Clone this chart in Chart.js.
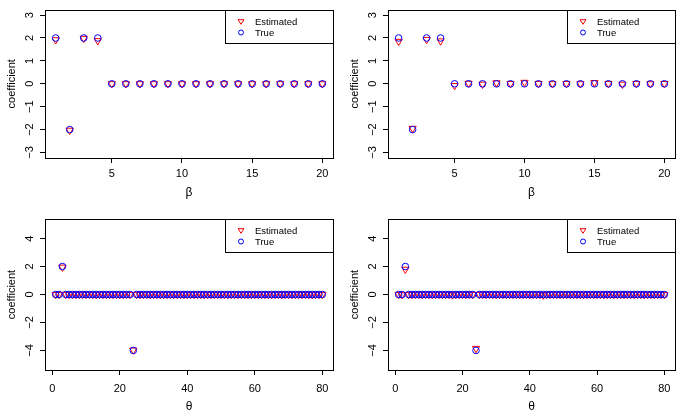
<!DOCTYPE html>
<html>
<head>
<meta charset="utf-8">
<script src="https://cdn.jsdelivr.net/npm/chart.js@4"></script>
<style>
body { margin: 0; background: #fff; width: 683px; height: 416px; position: relative; overflow: hidden; }
canvas { position: absolute; }
</style>
</head>
<body>
<canvas id="p1" width="341" height="205" style="left:0;top:0"></canvas>
<canvas id="p2" width="342" height="205" style="left:341px;top:0"></canvas>
<canvas id="p3" width="341" height="211" style="left:0;top:205px"></canvas>
<canvas id="p4" width="342" height="211" style="left:341px;top:205px"></canvas>
<script>
// beta coefficients (1..20)
const betaTrue = [2, -2, 2, 2, 0, 0, 0, 0, 0, 0, 0, 0, 0, 0, 0, 0, 0, 0, 0, 0];
const betaEstLeft = [1.92, -2.03, 1.98, 1.88, 0, 0, 0, 0, 0, 0, 0, 0, 0, 0, 0, 0, 0, 0, 0, 0];
const betaEstRight = [1.85, -1.95, 1.93, 1.87, -0.08, 0.02, -0.02, 0.04, 0.01, 0.06, 0.01, 0, 0.01, 0, 0.05, 0.01, -0.02, 0.01, 0, 0.01];

// theta coefficients (1..80)
const thetaTrue = [
    0, 0, 2, 0, 0, 0, 0, 0, 0, 0, 0, 0, 0, 0, 0, 0, 0, 0, 0, 0,
    0, 0, 0, -4, 0, 0, 0, 0, 0, 0, 0, 0, 0, 0, 0, 0, 0, 0, 0, 0,
    0, 0, 0, 0, 0, 0, 0, 0, 0, 0, 0, 0, 0, 0, 0, 0, 0, 0, 0, 0,
    0, 0, 0, 0, 0, 0, 0, 0, 0, 0, 0, 0, 0, 0, 0, 0, 0, 0, 0, 0
];
const thetaEstLeft = [
    0, 0, 1.95, 0, 0, 0, 0, 0, 0, 0, 0, 0, 0, 0, 0, 0, 0, 0, 0, 0,
    0, 0, 0, -3.98, 0, 0, 0, 0, 0, 0, 0, 0, 0, 0, 0, 0, 0, 0, 0, 0,
    0, 0, 0, 0, 0, 0, 0, 0, 0, 0, 0, 0, 0, 0, 0, 0, 0, 0, 0, 0,
    0, 0, 0, 0, 0, 0, 0, 0, 0, 0, 0, 0, 0, 0, 0, 0, 0, 0, 0, 0
];
const thetaEstRight = [
    0, -0.02, 1.8, 0, 0, 0, 0, 0, 0, 0, 0, 0, 0, 0, 0, 0, -0.04, 0, 0, 0,
    0, 0, 0, -3.86, 0, 0, 0, 0, 0, 0, 0, 0, 0, 0, 0, 0, 0, 0, 0, 0,
    0, 0, 0, -0.05, 0, 0, 0, 0, 0, 0, 0, 0, 0, 0, 0, 0, 0, 0, 0, 0,
    0, 0, 0, 0, 0, 0, 0, 0, 0, 0, 0, 0, 0, 0, 0, 0, 0, 0, 0, 0
];

const betaXTicks = [5, 10, 15, 20];
const betaYTicks = [-3, -2, -1, 0, 1, 2, 3];
const thetaXTicks = [0, 20, 40, 60, 80];
const thetaYTicks = [-4, -2, 0, 2, 4];

const legendLabels = ['Estimated', 'True'];
const FONT = 'Liberation Sans, Arial, Helvetica, sans-serif';

function toPoints(values) {
    return values.map((v, i) => ({x: i + 1, y: v}));
}

// R-style box, rotated y labels and legend
const rStyle = {
    id: 'rStyle',
    afterDraw(chart) {
        const ctx = chart.ctx;
        const a = chart.chartArea;
        ctx.save();
        ctx.strokeStyle = '#000';
        ctx.lineWidth = 1;
        ctx.strokeRect(Math.round(a.left) + 0.5, Math.round(a.top) + 0.5,
            Math.round(a.right - a.left), Math.round(a.bottom - a.top));

        // y tick labels, read bottom to top
        const yScale = chart.scales.y;
        ctx.fillStyle = '#000';
        ctx.font = '11px ' + FONT;
        ctx.textAlign = 'center';
        ctx.textBaseline = 'middle';
        yScale.ticks.forEach(t => {
            const py = yScale.getPixelForValue(t.value);
            ctx.save();
            ctx.translate(a.left - 15, py);
            ctx.rotate(-Math.PI / 2);
            ctx.fillText(t.value < 0 ? '\u2212' + Math.abs(t.value) : String(t.value), 0, 0);
            ctx.restore();
        });

        // legend box in the top right corner
        const lw = 108, lh = 33;
        const lx = Math.round(a.right) - lw, ly = Math.round(a.top);
        ctx.fillStyle = '#fff';
        ctx.fillRect(lx, ly, lw, lh);
        ctx.strokeRect(lx + 0.5, ly + 0.5, lw, lh);
        ctx.font = '9.5px ' + FONT;
        ctx.textAlign = 'left';
        ctx.fillStyle = '#000';
        const rows = [ly + 11.5, ly + 22.5];
        chart.data.datasets.forEach((ds, i) => {
            const sx = lx + 16, sy = rows[i];
            ctx.strokeStyle = ds.borderColor;
            ctx.lineWidth = 1;
            ctx.beginPath();
            if (ds.pointStyle === 'triangle') {
                ctx.moveTo(sx - 3, sy - 1.8);
                ctx.lineTo(sx + 3, sy - 1.8);
                ctx.lineTo(sx, sy + 2.8);
                ctx.closePath();
            } else {
                ctx.arc(sx, sy, 2.5, 0, Math.PI * 2);
            }
            ctx.stroke();
            ctx.fillText(ds.label, lx + 30, sy + 0.5);
        });
        ctx.restore();
    }
};

function makePanel(id, est, tru, xTicks, yTicks, xLim, yLim, xTitle, box) {
    const canvas = document.getElementById(id);
    new Chart(canvas, {
        type: 'scatter',
        data: {
            datasets: [
                {
                    label: legendLabels[0],
                    data: toPoints(est),
                    pointStyle: 'triangle',
                    rotation: 180,
                    radius: 4.2,
                    borderColor: '#ff0000',
                    backgroundColor: 'rgba(0,0,0,0)',
                    borderWidth: 1,
                    order: 1
                },
                {
                    label: legendLabels[1],
                    data: toPoints(tru),
                    pointStyle: 'circle',
                    radius: 3.3,
                    borderColor: '#0000ff',
                    backgroundColor: 'rgba(0,0,0,0)',
                    borderWidth: 1,
                    order: 0
                }
            ]
        },
        options: {
            responsive: false,
            animation: false,
            events: [],
            layout: {padding: {top: box.top, right: box.right, left: 0, bottom: 0}},
            plugins: {legend: {display: false}, tooltip: {enabled: false}},
            scales: {
                x: {
                    type: 'linear',
                    min: xLim[0],
                    max: xLim[1],
                    afterBuildTicks: s => { s.ticks = xTicks.map(v => ({value: v})); },
                    afterFit: s => { s.height = box.xAxisH; },
                    border: {display: false},
                    grid: {drawOnChartArea: false, drawTicks: true, tickLength: 5, color: '#000'},
                    ticks: {color: '#000', font: {family: FONT, size: 11}, padding: box.tickPad, maxRotation: 0},
                    title: {display: true, text: xTitle, color: '#000', font: {family: FONT, size: 12},
                        padding: {top: 0, bottom: box.titlePad}}
                },
                y: {
                    type: 'linear',
                    min: yLim[0],
                    max: yLim[1],
                    afterBuildTicks: s => { s.ticks = yTicks.map(v => ({value: v})); },
                    afterFit: s => { s.width = box.left; },
                    border: {display: false},
                    grid: {drawOnChartArea: false, drawTicks: true, tickLength: 5, color: '#000'},
                    ticks: {color: 'rgba(0,0,0,0)', font: {family: FONT, size: 11}},
                    title: {display: true, text: 'coefficient', color: '#000', font: {family: FONT, size: 11},
                        padding: {top: box.yTitlePad, bottom: 0}}
                }
            }
        },
        plugins: [rStyle]
    });
}

const betaX = [0.24, 20.76], betaY = [-3.24, 3.24];
const thetaX = [-2.16, 83.16], thetaY = [-5.4, 5.4];

makePanel('p1', betaEstLeft, betaTrue, betaXTicks, betaYTicks, betaX, betaY, '\u03b2',
    {left: 45, top: 6, right: 8, xAxisH: 47, tickPad: 4, titlePad: 5, yTitlePad: 5.5});
makePanel('p2', betaEstRight, betaTrue, betaXTicks, betaYTicks, betaX, betaY, '\u03b2',
    {left: 47, top: 6, right: 8, xAxisH: 47, tickPad: 4, titlePad: 5, yTitlePad: 7.5});
makePanel('p3', thetaEstLeft, thetaTrue, thetaXTicks, thetaYTicks, thetaX, thetaY, '\u03b8',
    {left: 45, top: 14, right: 8, xAxisH: 46, tickPad: 7, titlePad: 2, yTitlePad: 5.5});
makePanel('p4', thetaEstRight, thetaTrue, thetaXTicks, thetaYTicks, thetaX, thetaY, '\u03b8',
    {left: 47, top: 14, right: 8, xAxisH: 46, tickPad: 7, titlePad: 2, yTitlePad: 7.5});
</script>
</body>
</html>
